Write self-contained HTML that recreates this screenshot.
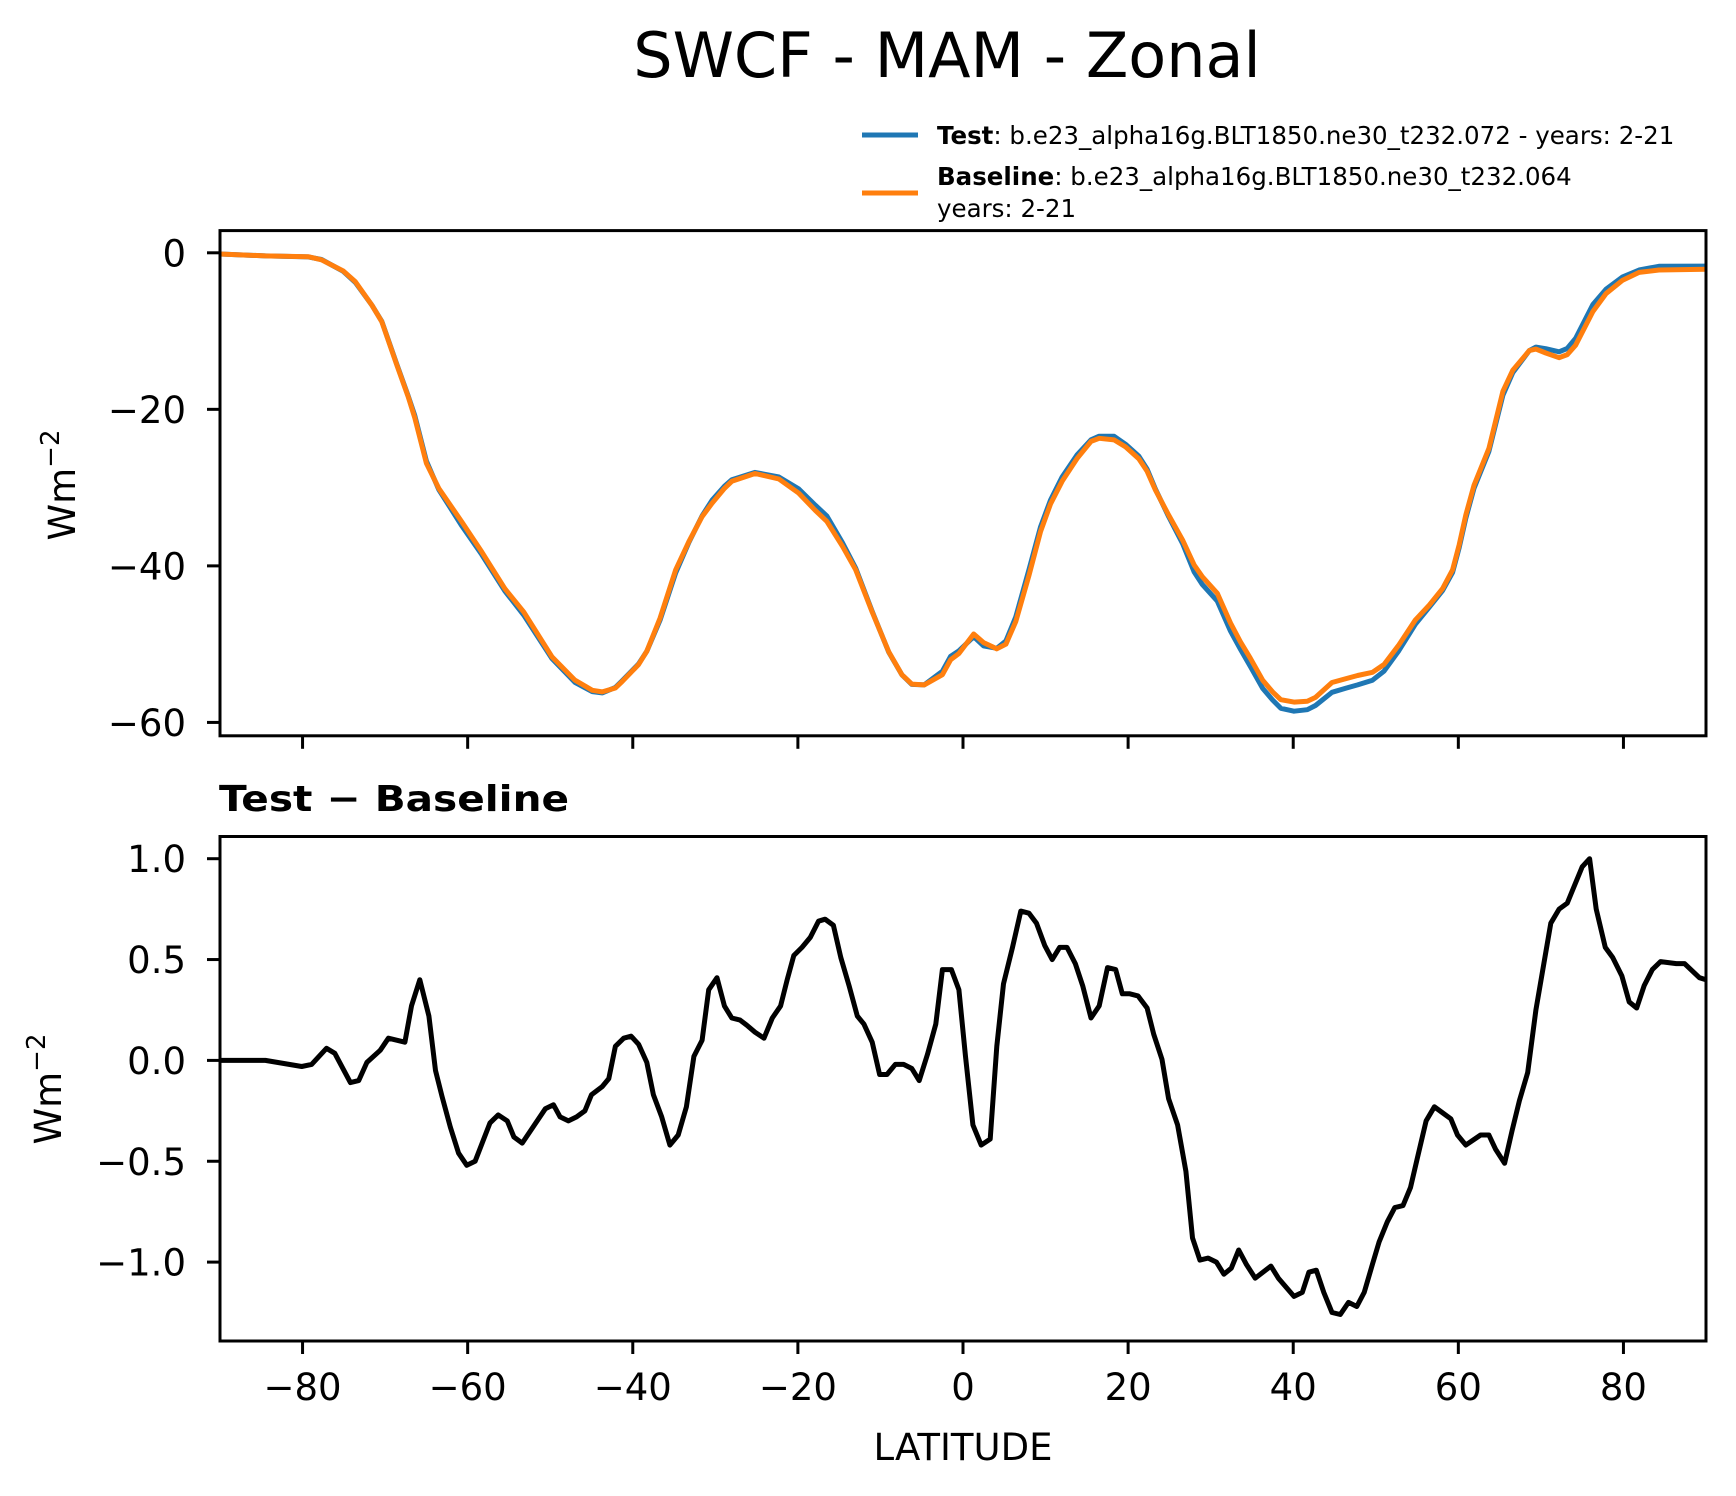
<!DOCTYPE html>
<html><head><meta charset="utf-8"><title>SWCF - MAM - Zonal</title>
<style>html,body{margin:0;padding:0;background:#fff}svg{display:block}text{font-family:"DejaVu Sans","Liberation Sans",sans-serif}</style>
</head><body>
<svg id="fig" xmlns="http://www.w3.org/2000/svg" width="1736" height="1496" viewBox="0 0 1736 1496">
<rect width="1736" height="1496" fill="#fff"/>
<text x="947" y="77" font-size="62" text-anchor="middle">SWCF - MAM - Zonal</text>
<g>
 <line x1="862" y1="135" x2="918" y2="135" stroke="#1f77b4" stroke-width="5"/>
 <text x="937" y="144" font-size="24.5"><tspan font-weight="bold">Test</tspan>: b.e23_alpha16g.BLT1850.ne30_t232.072 - years: 2-21</text>
 <line x1="862" y1="193" x2="918" y2="193" stroke="#ff7f0e" stroke-width="5"/>
 <text x="937" y="185" font-size="24.5"><tspan font-weight="bold">Baseline</tspan>: b.e23_alpha16g.BLT1850.ne30_t232.064</text>
 <text x="937" y="217" font-size="24.5">years: 2-21</text>
</g>
<g id="top"></g>
<g id="bot"></g>
<text x="219" y="811" font-size="36" font-weight="bold" textLength="350" lengthAdjust="spacingAndGlyphs">Test − Baseline</text>
<text transform="translate(75,485) rotate(-90)" font-size="37" text-anchor="middle">Wm<tspan font-size="26" dy="-16">−2</tspan></text>
<text transform="translate(61,1089) rotate(-90)" font-size="37" text-anchor="middle">Wm<tspan font-size="26" dy="-16">−2</tspan></text>
<text x="963" y="1460" font-size="37" text-anchor="middle">LATITUDE</text>
</svg>
<script>
const xTicks = [-80,-60,-40,-20,0,20,40,60,80];
const topYTicks = [0,-20,-40,-60];
const botYTicks = [1.0,0.5,0.0,-0.5,-1.0];
const botYTickLabels = ["1.0","0.5","0.0","−0.5","−1.0"];
const meanLat = [-90,-84.5,-79.3,-77.7,-75.1,-73.6,-71.6,-70.4,-68.6,-67.2,-66.4,-65.0,-63.5,-60.7,-58.3,-55.5,-53.2,-49.8,-47.0,-44.9,-43.7,-42.1,-41.3,-39.3,-38.3,-36.7,-34.8,-33.2,-31.6,-30.4,-28.9,
-28.0,-25.2,-22.3,-19.9,-17.9,-16.5,-14.6,-13.0,-11.0,-9.0,-7.4,-6.2,-4.7,-2.5,-1.5,-0.5,1.3,2.5,4.1,5.2,6.4,8.0,9.4,10.6,12.0,13.8,15.5,16.5,18.3,19.7,21.3,22.3,23.3,24.9,26.6,28.0,29.0,
30.8,32.4,33.6,34.8,36.3,37.5,38.5,40.1,41.7,42.7,44.7,46.4,47.8,49.6,51.0,52.8,54.8,56.5,58.1,59.3,60.1,60.9,61.9,63.7,65.4,66.6,68.6,69.4,70.6,72.2,73.2,74.2,76.3,77.9,79.9,81.9,84.3,90];
const baselineVals = [-0.15,-0.4,-0.5,-0.9,-2.3,-3.7,-6.7,-8.8,-14.3,-18.4,-21.1,-26.9,-30.1,-34.4,-38.2,-42.9,-45.9,-51.6,-54.6,-55.9,-56.1,-55.6,-54.8,-52.6,-50.9,-46.7,-40.5,-36.9,-33.7,-32.0,-30.1,
-29.2,-28.2,-28.9,-30.7,-32.9,-34.3,-37.5,-40.5,-45.9,-50.96,-53.9,-55.1,-55.2,-53.9,-52.0,-51.2,-48.7,-49.8,-50.6,-50.0,-47.1,-41.2,-35.6,-32.1,-29.2,-26.3,-24.1,-23.7,-23.9,-24.8,-26.3,-27.9,-30.3,-33.5,-36.7,-39.9,-41.4,
-43.5,-47.3,-49.7,-51.8,-54.6,-56.1,-57.1,-57.4,-57.3,-56.8,-54.9,-54.4,-54.0,-53.6,-52.6,-50.1,-46.9,-45.0,-42.9,-40.5,-37.3,-33.5,-29.7,-25.0,-17.7,-15.0,-12.5,-12.3,-12.8,-13.4,-13.0,-11.8,-7.5,-5.2,-3.5,-2.5,-2.2,-2.1];
const testVals = [-0.15,-0.4,-0.53,-0.85,-2.35,-3.8,-6.7,-8.75,-14.2,-18.3,-20.8,-26.6,-30.25,-34.9,-38.55,-43.2,-46.3,-51.83,-54.89,-56.07,-56.23,-55.53,-54.69,-52.52,-50.91,-46.95,-40.9,-37.0,-33.6,-31.62,-29.83,
-28.99,-28.06,-28.64,-30.16,-32.24,-33.61,-37.05,-40.28,-45.81,-51.01,-53.92,-55.14,-55.2,-53.45,-51.55,-50.85,-49.05,-50.22,-50.53,-49.6,-46.5,-40.47,-35.0,-31.6,-28.64,-25.85,-23.89,-23.43,-23.45,-24.47,-25.98,-27.64,-30.18,-33.69,-37.15,-40.78,-42.39,
-44.5,-48.33,-50.65,-52.84,-55.65,-57.13,-58.2,-58.57,-58.38,-57.84,-56.15,-55.62,-55.2,-54.61,-53.45,-50.83,-47.45,-45.26,-43.16,-40.83,-37.67,-33.92,-30.09,-25.37,-18.2,-15.3,-12.5,-12.05,-12.25,-12.65,-12.22,-10.94,-6.6,-4.64,-3.08,-2.2,-1.72,-1.7];
const diffLat = [-90,-84.5,-80.1,-78.9,-77.1,-76.1,-74.2,-73.2,-72.2,-70.6,-69.6,-67.6,-66.8,-65.8,-64.7,-63.9,-63.1,-62.1,-61.1,-60.1,-59.1,-57.3,-56.3,-55.2,-54.4,-53.4,-50.6,-49.6,-48.8,-47.8,-46.8,-45.8,-45.0,-43.7,-42.9,-42.1,-41.1,-40.2,-39.3,-38.3,-37.5,-36.5,-35.5,-34.5,-33.5,-32.6,-31.6,-30.8,-29.8,-28.9,
-28.0,-27.0,-26.2,-25.2,-24.1,-23.1,-22.1,-21.3,-20.5,-19.5,-18.5,-17.5,-16.7,-15.7,-14.8,-13.8,-12.8,-12.0,-11.0,-10.1,-9.2,-8.2,-7.2,-6.2,-5.3,-4.3,-3.3,-2.5,-1.4,-0.5,0.3,1.2,2.2,3.3,4.1,4.9,6.0,7.0,8.0,8.9,9.9,10.8,11.7,12.6,13.6,14.5,15.5,16.5,17.5,18.5,19.3,20.2,21.2,22.3,23.1,24.1,24.9,26.0,27.0,27.8,28.7,29.7,30.7,31.6,
32.5,33.4,34.3,35.4,37.3,38.2,40.1,41.1,41.9,42.8,43.7,44.7,45.7,46.7,47.7,48.6,49.6,50.4,51.4,52.3,53.3,54.2,55.0,56.1,57.1,58.1,59.1,59.9,60.9,62.7,63.7,64.5,65.6,66.5,67.4,68.4,69.4,70.4,71.2,72.2,73.2,74.0,75.0,75.9,76.7,77.8,78.7,79.8,80.7,81.6,82.5,83.5,84.5,86.4,87.4,89.2,90.0];
const diffVals = [0.0,0.0,-0.03,-0.02,0.06,0.035,-0.11,-0.10,-0.01,0.05,0.11,0.09,0.27,0.40,0.22,-0.05,-0.18,-0.33,-0.46,-0.52,-0.50,-0.31,-0.27,-0.30,-0.38,-0.41,-0.24,-0.22,-0.28,-0.30,-0.28,-0.25,-0.17,-0.13,-0.09,0.07,0.11,0.12,0.08,-0.01,-0.17,-0.28,-0.42,-0.37,-0.23,0.02,0.10,0.35,0.41,0.27,
0.21,0.20,0.175,0.14,0.11,0.21,0.27,0.40,0.52,0.56,0.61,0.69,0.70,0.67,0.51,0.37,0.22,0.18,0.09,-0.07,-0.07,-0.02,-0.02,-0.04,-0.10,0.03,0.18,0.45,0.45,0.35,0.02,-0.32,-0.42,-0.39,0.07,0.38,0.56,0.74,0.73,0.68,0.57,0.50,0.56,0.56,0.48,0.37,0.21,0.27,0.46,0.45,0.33,0.33,0.32,0.26,0.13,0.005,-0.19,-0.32,-0.55,-0.88,-0.99,-0.98,-1.00,-1.06,
-1.03,-0.94,-1.01,-1.08,-1.02,-1.08,-1.17,-1.15,-1.05,-1.04,-1.15,-1.25,-1.26,-1.20,-1.22,-1.15,-1.01,-0.90,-0.80,-0.73,-0.72,-0.63,-0.49,-0.30,-0.23,-0.26,-0.29,-0.37,-0.42,-0.37,-0.37,-0.44,-0.51,-0.35,-0.20,-0.06,0.25,0.49,0.68,0.75,0.78,0.86,0.96,1.00,0.75,0.56,0.51,0.42,0.29,0.26,0.37,0.45,0.49,0.48,0.48,0.41,0.40];

const NS = "http://www.w3.org/2000/svg";
const L = 220, R = 1706;
const xScale = v => L + (v + 90) / 180 * (R - L);
const topY = v => 252.8 - v * 7.827;
const botY = v => 1060.4 - v * 201.7;
const TOP = {t: 230.6, b: 735.8}, BOT = {t: 836.5, b: 1341};

function mk(parent, tag, attrs, txt) {
  const e = document.createElementNS(NS, tag);
  for (const k in attrs) e.setAttribute(k, attrs[k]);
  if (txt !== undefined) e.textContent = txt;
  parent.appendChild(e);
  return e;
}
function linePath(xs, ys, yf) {
  return xs.map((x, i) => (i ? "L" : "M") + xScale(x).toFixed(1) + "," + yf(ys[i]).toFixed(1)).join("");
}
function panel(g, box, yf, yTicks, yLabels, showXLabels, prefix) {
  const clipId = prefix + "-clip";
  const defs = mk(g, "defs", {});
  const cp = mk(defs, "clipPath", {id: clipId});
  mk(cp, "rect", {x: L, y: box.t, width: R - L, height: box.b - box.t});
  const plot = mk(g, "g", {"clip-path": "url(#" + clipId + ")"});
  
  
  xTicks.forEach(t => {
    const tk = mk(g, "line", {x1: xScale(t), x2: xScale(t), y1: box.b, y2: box.b + 13, stroke: "#000", "stroke-width": 3});
    
    
    if (showXLabels) {
      const lb = mk(g, "text", {x: xScale(t), y: 1400, "font-size": 37, "text-anchor": "middle"}, (t < 0 ? "−" + Math.abs(t) : String(t)));
      
      
    }
  });
  yTicks.forEach((t, i) => {
    const tk = mk(g, "line", {x1: L - 13, x2: L, y1: yf(t), y2: yf(t), stroke: "#000", "stroke-width": 3});
    
    
    const lb = mk(g, "text", {x: 186, y: yf(t) + 13.5, "font-size": 37, "text-anchor": "end"}, yLabels[i]);
    
    
  });
  const frame = mk(g, "rect", {x: L, y: box.t, width: R - L, height: box.b - box.t, fill: "none", stroke: "#000", "stroke-width": 3});
  
  
  return plot;
}
const topG = document.getElementById("top");
const topPlot = panel(topG, TOP, topY, topYTicks, topYTicks.map(t => t < 0 ? "−" + Math.abs(t) : String(t)), false, "top");
const testLine = mk(topPlot, "path", {d: linePath(meanLat, testVals, topY), fill: "none", stroke: "#1f77b4", "stroke-width": 5, "stroke-linejoin": "round"});


const baseLine = mk(topPlot, "path", {d: linePath(meanLat, baselineVals, topY), fill: "none", stroke: "#ff7f0e", "stroke-width": 5, "stroke-linejoin": "round"});



const botG = document.getElementById("bot");
const botPlot = panel(botG, BOT, botY, botYTicks, botYTickLabels, true, "bottom");
const diffLine = mk(botPlot, "path", {d: linePath(diffLat, diffVals, botY), fill: "none", stroke: "#000", "stroke-width": 5, "stroke-linejoin": "round"});


</script>
</body></html>
